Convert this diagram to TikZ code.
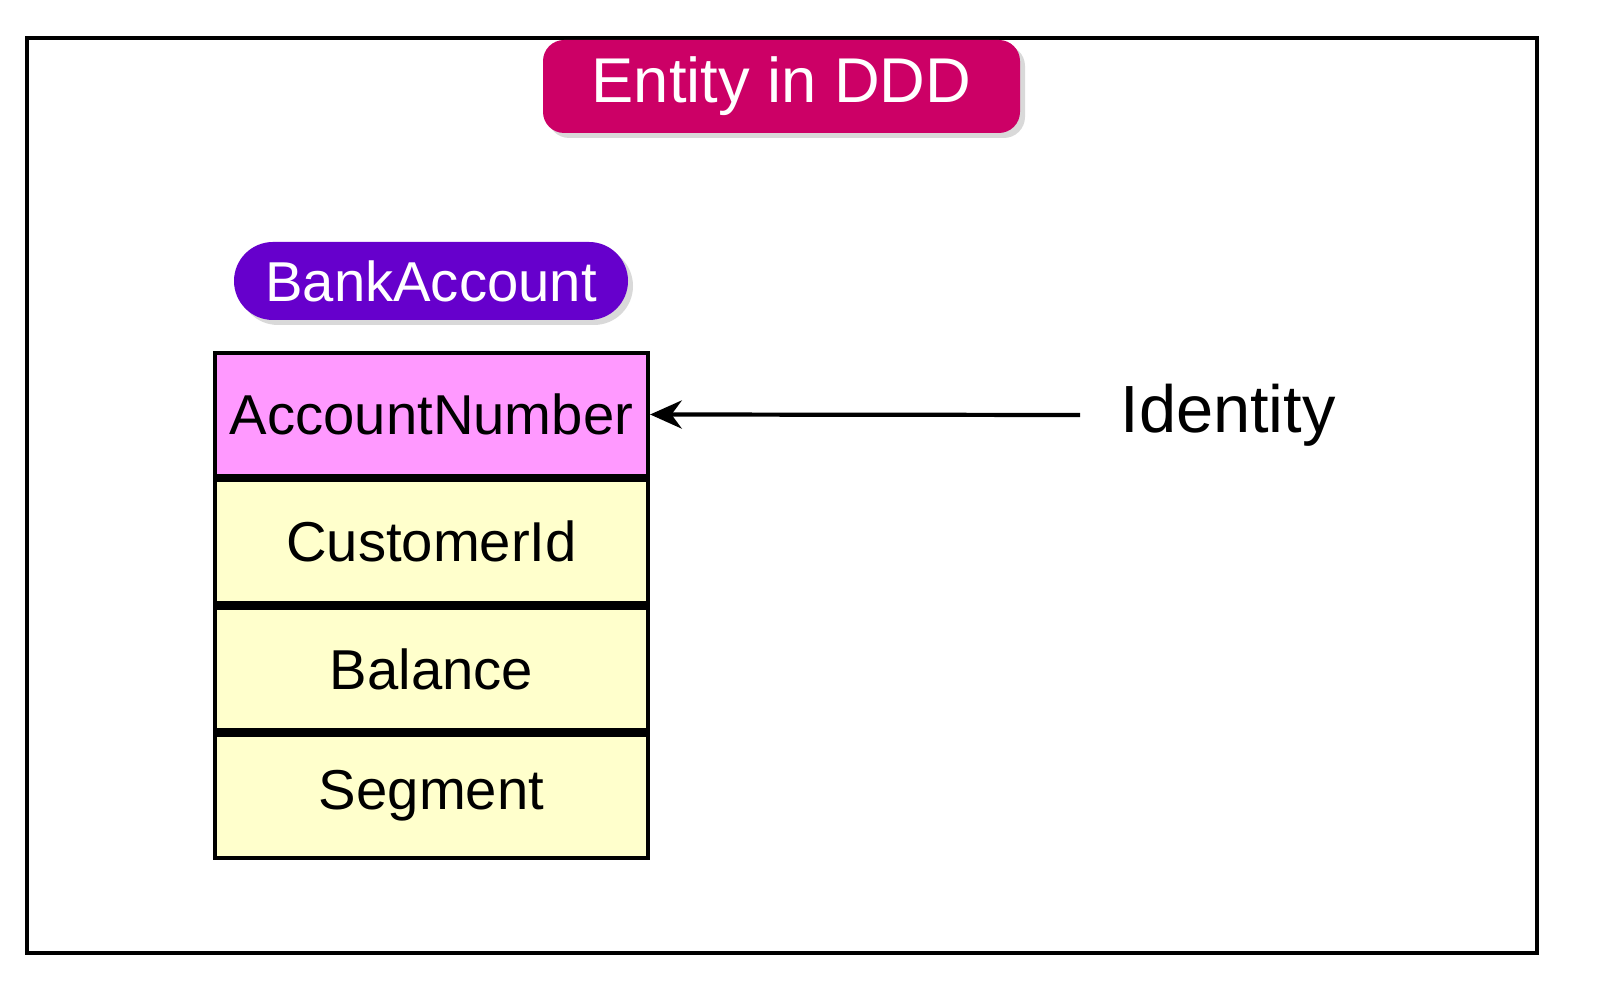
\documentclass[tikz,border=0pt]{standalone}
\usepackage{fontspec}
\setmainfont{Liberation Sans}
\usetikzlibrary{positioning}
\usetikzlibrary{arrows.meta}
\usetikzlibrary{shadows}
\definecolor{titlered}{HTML}{CC0066}
\definecolor{entitypurple}{HTML}{6600CC}
\definecolor{idpink}{HTML}{FF99FF}
\definecolor{fieldyellow}{HTML}{FFFFCC}
\tikzset{
  field/.style={draw=black,line width=1.2pt,minimum width=4.33cm,minimum height=1.23cm,inner sep=0pt,fill=fieldyellow,font=\fontsize{16}{18}\selectfont},
  banner/.style={text=white,inner sep=0pt,drop shadow={opacity=0.3,shadow xshift=0.05cm,shadow yshift=-0.05cm}}
}
\begin{document}
\begin{tikzpicture}
  \useasboundingbox (0,0) rectangle (16,10.02);
  \draw[line width=1.2pt] (0.27,0.49) rectangle (15.37,9.64);
  \node[banner,fill=titlered,rounded corners=6pt,minimum width=4.77cm,minimum height=0.93cm,font=\fontsize{18}{20}\selectfont] (title) at (7.815,9.155) {Entity in DDD};
  \node[banner,fill=entitypurple,rounded corners=0.39cm,minimum width=3.94cm,minimum height=0.78cm,font=\fontsize{16}{18}\selectfont] (entity) at (4.31,7.21) {BankAccount};
  \node[field,fill=idpink] (id) at (4.315,5.875) {AccountNumber};
  \node[field,below=0pt of id] (cust) {CustomerId};
  \node[field,below=0pt of cust] (bal) {Balance};
  \node[field,below=0pt of bal] (seg) {Segment};
  \node[font=\fontsize{19}{21}\selectfont,anchor=west] (label) at (11.08,5.87) {Identity};
  \draw[-{Stealth[length=9pt,width=8pt]},line width=1.2pt] ([xshift=-0.28cm]label.west) -- (id.east);
\end{tikzpicture}
\end{document}
